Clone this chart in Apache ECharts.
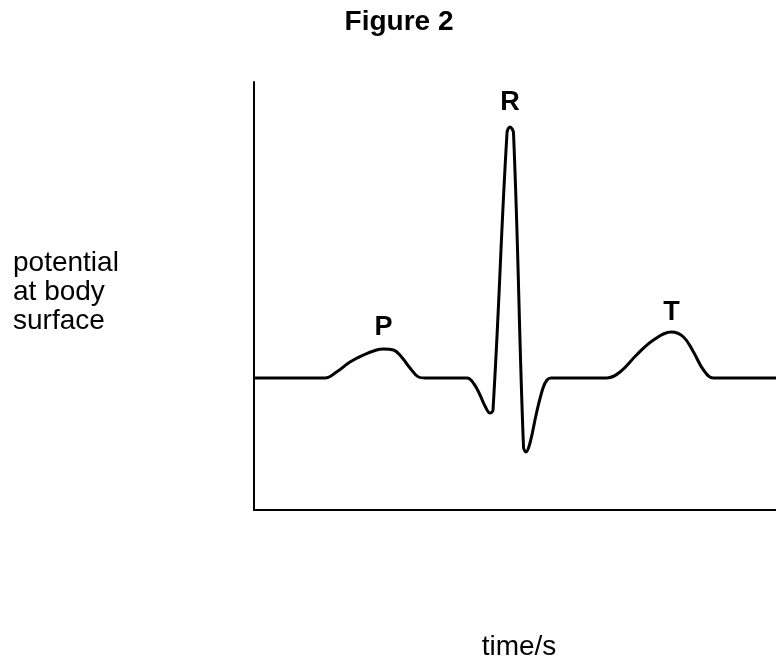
<!DOCTYPE html>
<html><head><meta charset="utf-8">
<script src="https://cdn.jsdelivr.net/npm/echarts@6/dist/echarts.min.js"></script>
<style>html,body{margin:0;padding:0;background:#fff}#c{width:776px;height:663px}</style>
</head><body><div id="c"></div>
<script>
// time (s) and potential (arbitrary units, baseline = 0)
var times = [0, 0.142, 0.165, 0.192, 0.219, 0.245, 0.259, 0.279, 0.295, 0.312, 0.329, 0.342,
  0.426, 0.44, 0.452, 0.462, 0.472, 0.478, 0.506, 0.512, 0.519, 0.539, 0.544, 0.552, 0.565,
  0.578, 0.586, 0.594, 0.706, 0.732, 0.765, 0.799, 0.835, 0.859, 0.879, 0.899, 0.919, 1.044];
var potential = [0, 0, 0.06, 0.16, 0.23, 0.28, 0.29, 0.28, 0.21, 0.10, 0.01, 0,
  0, -0.06, -0.17, -0.28, -0.35, -0.32, 2.45, 2.51, 2.45, -0.69, -0.74, -0.65, -0.35,
  -0.10, -0.02, 0, 0, 0.06, 0.23, 0.38, 0.46, 0.41, 0.26, 0.08, 0, 0];
var waveNames = ['P', 'R', 'T'];
var waveTimes = [0.259, 0.512, 0.835];
var wavePeaks = [0.29, 2.51, 0.46];
var waveOffsets = [-21, -24, -19];

var chart = echarts.init(document.getElementById('c'), null, {renderer: 'canvas'});
var font = '"Liberation Sans", Arial, sans-serif';
var seriesData = times.map(function (t, i) { return [t, potential[i]]; });
var marks = waveNames.map(function (n, i) {
  return {
    coord: [waveTimes[i], wavePeaks[i]], value: n,
    label: {show: true, formatter: n, offset: [0, waveOffsets[i]], position: 'inside',
      color: '#000', fontFamily: font, fontWeight: 'bold', fontSize: 27}
  };
});
chart.setOption({
  animation: false,
  backgroundColor: '#fff',
  graphic: [
    {type: 'text', x: 399, y: 22, style: {text: 'Figure 2', font: 'bold 28px ' + font,
      fill: '#000', align: 'center', verticalAlign: 'middle'}},
    {type: 'text', x: 13, y: 292, style: {text: 'potential\nat body\nsurface',
      font: '28px ' + font, fill: '#000', lineHeight: 29, align: 'left', verticalAlign: 'middle'}},
    {type: 'text', x: 519, y: 647, style: {text: 'time/s', font: '28px ' + font, fill: '#000',
      align: 'center', verticalAlign: 'middle'}}
  ],
  grid: {left: 254, right: 0, top: 82, bottom: 153},
  xAxis: {
    type: 'value', min: 0, max: 1.044,
    axisLine: {show: true, onZero: false, lineStyle: {color: '#000', width: 2}},
    axisTick: {show: false}, axisLabel: {show: false}, splitLine: {show: false}
  },
  yAxis: {
    type: 'value', min: -1.32, max: 2.96,
    axisLine: {show: true, onZero: false, lineStyle: {color: '#000', width: 2}},
    axisTick: {show: false}, axisLabel: {show: false}, splitLine: {show: false}
  },
  series: [{
    type: 'line', data: seriesData, showSymbol: false, smooth: 0.4,
    lineStyle: {color: '#000', width: 3}, clip: false,
    markPoint: {symbol: 'circle', symbolSize: 0, data: marks}
  }]
});
</script></body></html>
